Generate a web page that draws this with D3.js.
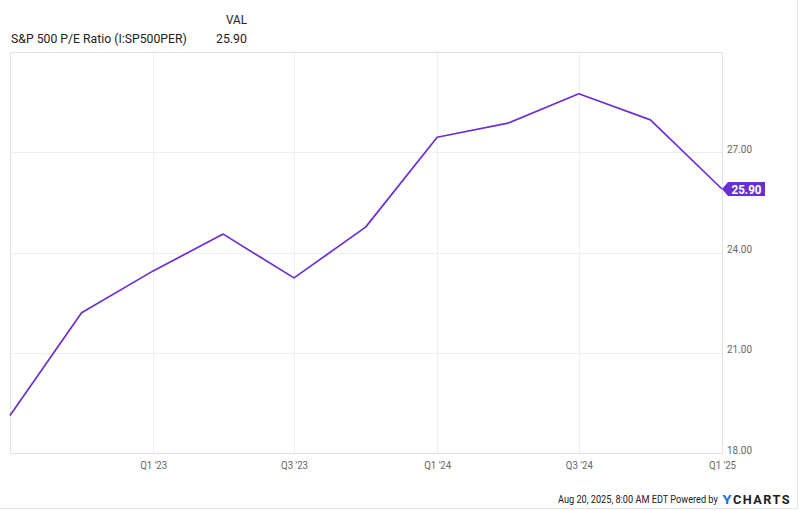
<!DOCTYPE html>
<html>
<head>
<meta charset="utf-8">
<script src="https://cdn.jsdelivr.net/npm/d3@7"></script>
<style>
  html, body { margin: 0; padding: 0; background: #fff; }
  svg { display: block; font-family: Roboto, "Noto Sans", sans-serif; }
</style>
</head>
<body>
<svg id="chart" width="800" height="511"></svg>
<script>
// ---- data ----
const dates = ["2022-07-01","2022-10-01","2023-01-01","2023-04-01","2023-07-01","2023-10-01",
               "2024-01-01","2024-04-01","2024-07-01","2024-10-01","2025-01-01"];
const peValues = [19.12, 22.20, 23.45, 24.55, 23.24, 24.76, 27.45, 27.87, 28.75, 27.97, 25.90];
const yTicks = [18, 21, 24, 27];
const xTickDates = ["2023-01-01","2023-07-01","2024-01-01","2024-07-01","2025-01-01"];
const xTickLabels = ["Q1 '23","Q3 '23","Q1 '24","Q3 '24","Q1 '25"];
const seriesName = "S&P 500 P/E Ratio (I:SP500PER)";
const lastValueLabel = "25.90";

// ---- layout ----
const W = 800, H = 511;
const plot = { left: 10, right: 722, top: 52, bottom: 453 };
const purple = "#6a2fd4";

const parse = d3.utcParse("%Y-%m-%d");
const data = dates.map((d, i) => ({ date: parse(d), value: peValues[i] }));

const x = d3.scaleUtc()
  .domain([parse(dates[0]), parse(dates[dates.length - 1])])
  .range([plot.left, plot.right]);
const y = d3.scaleLinear().domain([18, 30]).range([plot.bottom, plot.top]);

const svg = d3.select("#chart");

// helper: place a text at (px,py) horizontally scaled to a target width
function fitText(txt, px, py, width, attrs, anchor) {
  const t = svg.append("text").attr("x", 0).attr("y", 0);
  Object.entries(attrs).forEach(([k, v]) => t.attr(k, v));
  t.text(txt);
  const nat = t.node().getComputedTextLength();
  const k = width / nat;
  const left = anchor === "end" ? px - width : anchor === "middle" ? px - width / 2 : px;
  t.attr("transform", `translate(${left},${py}) scale(${k},1)`);
  return t;
}

// outer frame (right and bottom edges)
svg.append("line").attr("x1", W - 2.5).attr("x2", W - 2.5).attr("y1", 0).attr("y2", H - 2)
  .attr("stroke", "#e6e6e6").attr("stroke-width", 1);
svg.append("line").attr("x1", 0).attr("x2", W - 2).attr("y1", H - 2.5).attr("y2", H - 2.5)
  .attr("stroke", "#e6e6e6").attr("stroke-width", 1);

// gridlines
const g = svg.append("g");
g.selectAll(".hg").data(yTicks.filter(t => t > 18)).join("line")
  .attr("x1", plot.left).attr("x2", plot.right)
  .attr("y1", d => Math.round(y(d)) + 0.5).attr("y2", d => Math.round(y(d)) + 0.5)
  .attr("stroke", "#efefef");
g.selectAll(".vg").data(xTickDates.slice(0, -1)).join("line")
  .attr("x1", d => Math.round(x(parse(d))) + 0.5).attr("x2", d => Math.round(x(parse(d))) + 0.5)
  .attr("y1", plot.top).attr("y2", plot.bottom)
  .attr("stroke", "#efefef");

// plot border
g.append("rect")
  .attr("x", plot.left + 0.5).attr("y", plot.top + 0.5)
  .attr("width", plot.right - plot.left).attr("height", plot.bottom - plot.top)
  .attr("fill", "none").attr("stroke", "#e2e2e2");

// y axis labels (right)
const yAxis = d3.axisRight(y).tickValues(yTicks).tickFormat(d3.format(".2f")).tickSize(0).tickPadding(5);
const yg = svg.append("g").attr("transform", `translate(${plot.right},0)`).call(yAxis);
yg.select(".domain").remove();
yg.selectAll("text")
  .attr("fill", "#666").attr("font-size", 11.5).attr("font-family", "Roboto, sans-serif")
  .attr("dy", "0em")
  .attr("textLength", 25).attr("lengthAdjust", "spacingAndGlyphs");

// x axis labels
const xAxis = d3.axisBottom(x).tickValues(xTickDates.map(parse))
  .tickFormat((d, i) => xTickLabels[i]).tickSize(0).tickPadding(8);
const xg = svg.append("g").attr("transform", `translate(0,${plot.bottom})`).call(xAxis);
xg.select(".domain").remove();
xg.selectAll("text")
  .attr("fill", "#666").attr("font-size", 11.5).attr("font-family", "Roboto, sans-serif")
  .attr("textLength", 27).attr("lengthAdjust", "spacingAndGlyphs");

// line
const line = d3.line().x(d => x(d.date)).y(d => y(d.value));
svg.append("path").datum(data)
  .attr("d", line).attr("fill", "none")
  .attr("stroke", purple).attr("stroke-width", 1.7).attr("stroke-linejoin", "round");

// last value tag
const last = data[data.length - 1];
const tx = x(last.date), ty = y(last.value);
svg.append("path")
  .attr("d", `M${tx},${ty} L${tx + 6},${ty - 7} L${tx + 43},${ty - 7} L${tx + 43},${ty + 7} L${tx + 6},${ty + 7} Z`)
  .attr("fill", purple);
fitText(lastValueLabel, tx + 24.5, ty + 4.5, 30,
  { "font-size": 12, "font-weight": "bold", fill: "#fff" }, "middle");

// legend
fitText("VAL", 247, 24, 21, { "font-size": 13.5, fill: "#222" }, "end");
fitText(seriesName, 11, 42.5, 176, { "font-size": 13.5, fill: "#222" }, "start");
fitText(lastValueLabel, 247, 42.5, 31, { "font-size": 13.5, fill: "#222" }, "end");

// footer
fitText("Aug 20, 2025, 8:00 AM EDT Powered by", 558, 503, 160,
  { "font-size": 11.5, fill: "#222" }, "start");
fitText("Y", 722.5, 504, 9, { "font-size": 13, "font-weight": "bold", fill: "#1a6fe0" }, "start");
fitText("CHARTS", 733, 504, 58, { "font-size": 13, "font-weight": "bold", fill: "#1c1c28",
  "letter-spacing": 1.5 }, "start");
</script>
</body>
</html>
